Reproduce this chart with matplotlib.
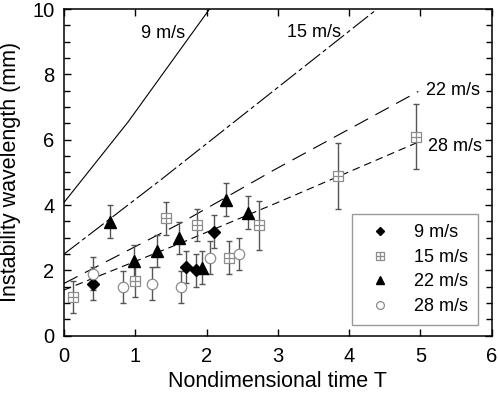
import numpy as np
import matplotlib
matplotlib.use("Agg")
import matplotlib.pyplot as plt
from matplotlib.ticker import MultipleLocator
from matplotlib.legend_handler import HandlerTuple

plt.rcParams['font.family'] = ['Liberation Sans', 'DejaVu Sans']
plt.rcParams['lines.scale_dashes'] = False

# measured points (T, wavelength mm, error)
t_9 = [0.41, 1.71, 1.85, 2.11]
w_9 = [1.59, 2.10, 2.00, 3.19]
e_9 = [0.5, 0.5, 0.5, 0.5]

t_15 = [0.12, 1.00, 1.43, 1.87, 2.31, 2.74, 3.85, 4.94]
w_15 = [1.19, 1.69, 3.59, 3.39, 2.39, 3.39, 4.89, 6.10]
e_15 = [0.5, 0.5, 0.5, 0.5, 0.5, 0.75, 1.0, 1.0]

t_22 = [0.65, 0.98, 1.30, 1.61, 1.94, 2.27, 2.58]
w_22 = [3.49, 2.28, 2.59, 2.99, 2.08, 4.17, 3.77]
e_22 = [0.5, 0.5, 0.5, 0.5, 0.5, 0.5, 0.5]

t_28 = [0.41, 0.83, 1.24, 1.64, 2.05, 2.46]
w_28 = [1.90, 1.49, 1.59, 1.49, 2.39, 2.50]
e_28 = [0.5, 0.5, 0.5, 0.5, 0.5, 0.5]

# model curves
line9_t = [0.0, 0.9, 2.04]
line9_w = [4.08, 6.55, 10.0]
line15_t = [0.0, 1.35, 4.39]
line15_w = [2.50, 4.76, 10.0]
line22_t = [0.0, 1.63, 2.95, 4.97]
line22_w = [1.60, 3.44, 5.08, 7.48]
line28_t = [0.0, 1.63, 3.03, 4.97]
line28_w = [1.40, 2.83, 4.11, 5.93]

fig = plt.figure(figsize=(4.98, 3.98), dpi=100)
ax = fig.add_axes([0.1285, 0.1565, 0.859, 0.8205])

lc = 'black'
ax.plot(line9_t, line9_w, color=lc, lw=0.8, ls='-')
ax.plot(line15_t, line15_w, color=lc, lw=0.8, ls=(0, (14, 2.5, 3, 2.5)))
ax.plot(line22_t, line22_w, color=lc, lw=0.8, ls=(0, (11, 6)))
ax.plot(line28_t, line28_w, color=lc, lw=0.8, ls=(0, (5.5, 3.5)))

ebc = '#555555'
ekw = dict(fmt='none', ecolor=ebc, elinewidth=1.0, capsize=2.5, capthick=1.0, zorder=2)
ax.errorbar(t_9, w_9, yerr=e_9, **ekw)
ax.errorbar(t_15, w_15, yerr=e_15, **ekw)
ax.errorbar(t_22, w_22, yerr=e_22, **ekw)
ax.errorbar(t_28, w_28, yerr=e_28, **ekw)

gray = '#8c8c8c'
h9, = ax.plot(t_9, w_9, 'D', ms=6, color='black', ls='none', zorder=3)
h15a, = ax.plot(t_15, w_15, 's', ms=7.5, mfc='white', mec=gray, mew=0.9, ls='none', zorder=3)
h15b, = ax.plot(t_15, w_15, '+', ms=7.5, mec=gray, mew=0.9, ls='none', zorder=4)
h22, = ax.plot(t_22, w_22, '^', ms=8, color='black', ls='none', zorder=3)
h28, = ax.plot(t_28, w_28, 'o', ms=7.5, mfc='white', mec=gray, mew=0.9, ls='none', zorder=3)

ax.text(1.39, 9.25, '9 m/s', fontsize=13, ha='center', va='center')
ax.text(3.5, 9.28, '15 m/s', fontsize=13, ha='center', va='center')
ax.text(5.46, 7.51, '22 m/s', fontsize=13, ha='center', va='center')
ax.text(5.49, 5.78, '28 m/s', fontsize=13, ha='center', va='center')

leg = ax.legend([h9, (h15a, h15b), h22, h28],
                ['9 m/s', '15 m/s', '22 m/s', '28 m/s'],
                handler_map={tuple: HandlerTuple(ndivide=1, pad=0)},
                loc='lower right', bbox_to_anchor=(0.9675, 0.033),
                fontsize=13, frameon=True, fancybox=False, framealpha=1,
                edgecolor='#999999', handlelength=2.0, handletextpad=0.9,
                borderpad=0.55, labelspacing=0.42, markerscale=0.75,
                borderaxespad=0)
leg.get_frame().set_linewidth(1.0)

ax.set_xlim(0, 6)
ax.set_ylim(0, 10)
ax.xaxis.set_major_locator(MultipleLocator(1))
ax.yaxis.set_major_locator(MultipleLocator(2))
ax.yaxis.set_minor_locator(MultipleLocator(0.5))
ax.tick_params(which='both', direction='in', top=True, right=True, labelsize=14.5, width=1.0)
ax.tick_params(which='major', length=5)
ax.tick_params(axis='x', which='major', pad=8)
ax.tick_params(axis='y', which='major', pad=7)
ax.tick_params(which='minor', length=4)
for s in ax.spines.values():
    s.set_linewidth(1.1)

ax.set_xlabel('Nondimensional time T', fontsize=15.5, labelpad=4)
ax.set_ylabel('Instability wavelength (mm)', fontsize=15.5, labelpad=8)

fig.savefig('out.png', dpi=100)
